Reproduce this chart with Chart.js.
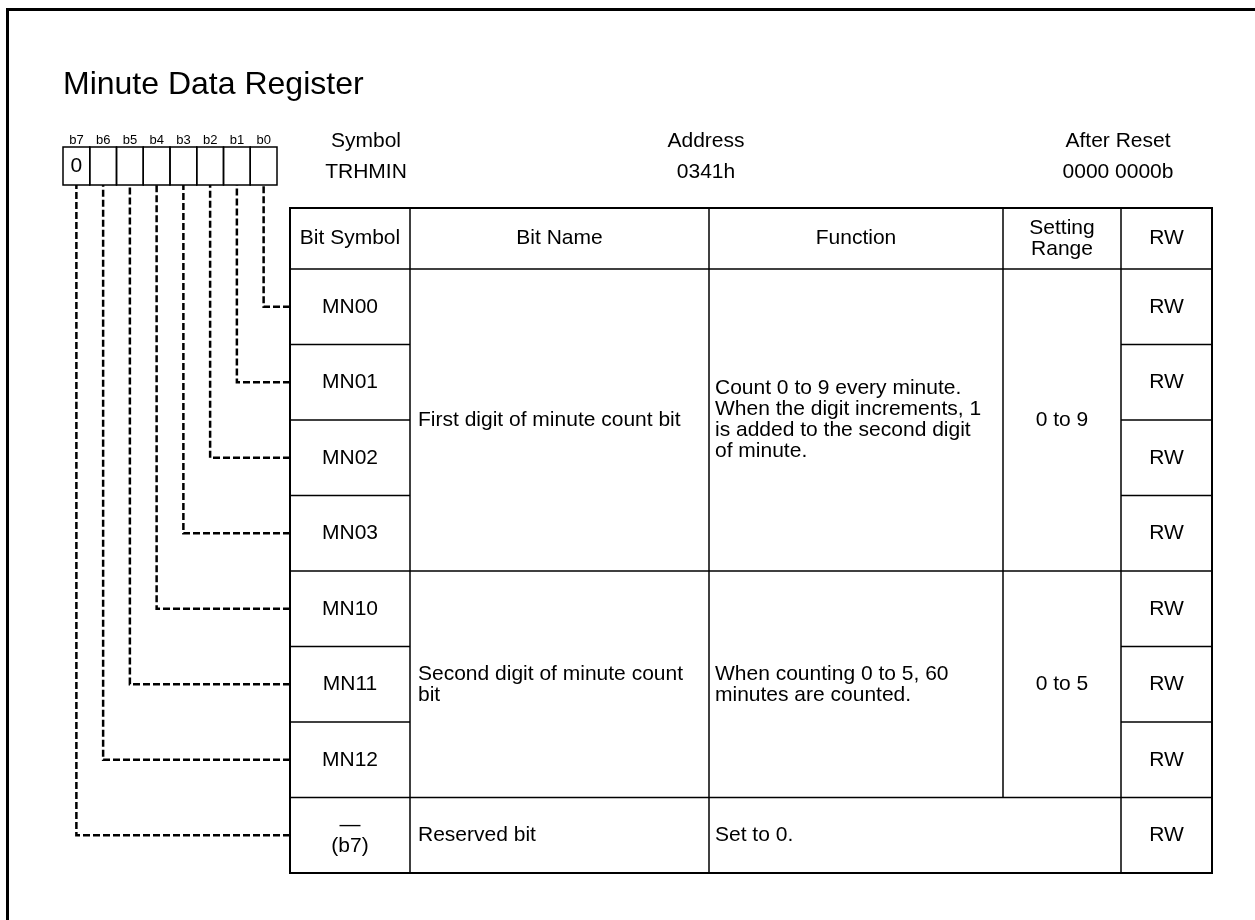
<!DOCTYPE html>
<html>
<head>
<meta charset="utf-8">
<title>Minute Data Register</title>
<script src="https://cdn.jsdelivr.net/npm/chart.js@4.4.0/dist/chart.umd.min.js"></script>
<style>
    html, body { margin: 0; padding: 0; background: #fff; }
    #wrap { position: relative; width: 1255px; height: 920px; }
</style>
</head>
<body>
<div id="wrap"><canvas id="registerChart"></canvas></div>
<script>
// ================================
// Register data
// ================================

const registerTitle = "Minute Data Register";

const headerLabels = ["Symbol", "Address", "After Reset"];
const headerValues = ["TRHMIN", "0341h", "0000 0000b"];

// bit boxes, left to right
const bitLabels = ["b7", "b6", "b5", "b4", "b3", "b2", "b1", "b0"];
const bitValues = ["0", "", "", "", "", "", "", ""];

const columnTitles = ["Bit Symbol", "Bit Name", "Function", "Setting\nRange", "RW"];

// one entry per table row (row 0 = b0 ... row 7 = b7)
const bitSymbols = ["MN00", "MN01", "MN02", "MN03", "MN10", "MN11", "MN12", "\u2014\n(b7)"];
const bitAccess = ["RW", "RW", "RW", "RW", "RW", "RW", "RW", "RW"];

// merged cells: first row, last row
const groupRows = [[0, 3], [4, 6], [7, 7]];
const groupNames = [
    "First digit of minute count bit",
    "Second digit of minute count\nbit",
    "Reserved bit"
];
const groupFunctions = [
    "Count 0 to 9 every minute.\nWhen the digit increments, 1\nis added to the second digit\nof minute.",
    "When counting 0 to 5, 60\nminutes are counted.",
    "Set to 0."
];
// null = function cell also covers the setting range column
const groupRanges = ["0 to 9", "0 to 5", null];

// ================================
// Layout (pixels)
// ================================

const layout = {
    colWidths: [120, 299, 294, 118, 91],
    rowPx: 75.5,
    headerPx: 61,
    boxLeft: -227,      // relative to table left
    boxWidth: 26.75,
    boxTop: -122,       // relative to first data row top
    boxBottom: -84,
    infoX: [76, 416, 828],
    font: "Liberation Sans, Arial, sans-serif",
    textSize: 21,
    lineH: 21
};

const tableWidth = layout.colWidths.reduce((a, b) => a + b, 0);
const headerUnits = layout.headerPx / layout.rowPx;
const colEdges = layout.colWidths.reduce((acc, w) => { acc.push(acc[acc.length - 1] + w); return acc; }, [0]);

function boxCenter(i) {
    return layout.boxLeft + layout.boxWidth * (i + 0.5);
}

// ================================
// Connector datasets (dashed lines row -> bit box)
// ================================

const connectors = bitSymbols.map((sym, row) => {
    const boxIndex = bitLabels.indexOf("b" + row);
    const bx = boxCenter(boxIndex);
    return {
        label: bitLabels[boxIndex],
        data: [
            { x: 0, y: row + 0.5 },
            { x: bx, y: row + 0.5 },
            { x: bx, y: layout.boxBottom / layout.rowPx }
        ],
        showLine: true,
        borderColor: "#000",
        borderWidth: 2.5,
        borderDash: [7, 3],
        pointRadius: 0,
        tension: 0,
        clip: false
    };
});

// ================================
// Drawing helpers
// ================================

function drawText(ctx, text, x, y, align, size) {
    const lines = text.split("\n");
    ctx.font = (size || layout.textSize) + "px " + layout.font;
    ctx.textAlign = align;
    ctx.textBaseline = "middle";
    const start = y - (lines.length - 1) * layout.lineH / 2;
    lines.forEach((ln, k) => ctx.fillText(ln, x, start + k * layout.lineH));
}

function line(ctx, x1, y1, x2, y2) {
    ctx.beginPath();
    ctx.moveTo(x1, y1);
    ctx.lineTo(x2, y2);
    ctx.stroke();
}

const registerPlugin = {
    id: "registerTable",

    beforeDraw(chart) {
        const ctx = chart.ctx;
        ctx.save();
        ctx.fillStyle = "#fff";
        ctx.fillRect(0, 0, chart.width, chart.height);
        // page frame
        ctx.strokeStyle = "#000";
        ctx.lineWidth = 3;
        ctx.beginPath();
        ctx.moveTo(7.5, chart.height);
        ctx.lineTo(7.5, 9.5);
        ctx.lineTo(chart.width, 9.5);
        ctx.stroke();
        ctx.restore();
    },

    afterDatasetsDraw(chart) {
        const ctx = chart.ctx;
        const xs = chart.scales.x;
        const ys = chart.scales.y;
        const X = v => xs.getPixelForValue(v);
        const Y = v => ys.getPixelForValue(v);
        const top = Y(-headerUnits);
        const rowTop = Y(0);

        ctx.save();
        ctx.fillStyle = "#000";
        ctx.strokeStyle = "#000";

        // title and register info
        drawText(ctx, registerTitle, X(layout.boxLeft), Y(-2.44), "left", 32);
        headerLabels.forEach((lab, i) => {
            drawText(ctx, lab, X(layout.infoX[i]), rowTop - 128, "center");
            drawText(ctx, headerValues[i], X(layout.infoX[i]), rowTop - 97, "center");
        });

        // bit boxes
        const bTop = rowTop + layout.boxTop;
        const bBot = rowTop + layout.boxBottom;
        ctx.lineWidth = 1.5;
        bitLabels.forEach((lab, i) => {
            const l = X(layout.boxLeft + layout.boxWidth * i);
            const r = X(layout.boxLeft + layout.boxWidth * (i + 1));
            ctx.strokeRect(l, bTop, r - l, bBot - bTop);
            drawText(ctx, lab, X(boxCenter(i)), bTop - 7, "center", 13);
            if (bitValues[i]) drawText(ctx, bitValues[i], X(boxCenter(i)), (bTop + bBot) / 2, "center");
        });

        // header row
        columnTitles.forEach((t, c) => {
            drawText(ctx, t, (X(colEdges[c]) + X(colEdges[c + 1])) / 2, (top + rowTop) / 2, "center");
        });
        line(ctx, X(0), top, X(tableWidth), top);
        line(ctx, X(0), rowTop, X(tableWidth), rowTop);

        // single-row columns: bit symbol and RW
        bitSymbols.forEach((sym, r) => {
            const yc = Y(r + 0.5);
            drawText(ctx, sym, (X(colEdges[0]) + X(colEdges[1])) / 2, yc, "center");
            drawText(ctx, bitAccess[r], (X(colEdges[4]) + X(colEdges[5])) / 2, yc, "center");
            line(ctx, X(colEdges[0]), Y(r + 1), X(colEdges[1]), Y(r + 1));
            line(ctx, X(colEdges[4]), Y(r + 1), X(colEdges[5]), Y(r + 1));
        });

        // merged groups
        groupRows.forEach((g, k) => {
            const y0 = Y(g[0]);
            const y1 = Y(g[1] + 1);
            const yc = (y0 + y1) / 2;
            drawText(ctx, groupNames[k], X(colEdges[1]) + 8, yc, "left");
            drawText(ctx, groupFunctions[k], X(colEdges[2]) + 6, yc, "left");
            if (groupRanges[k] !== null) {
                drawText(ctx, groupRanges[k], (X(colEdges[3]) + X(colEdges[4])) / 2, yc, "center");
                line(ctx, X(colEdges[3]), y0, X(colEdges[3]), y1);
            }
            line(ctx, X(colEdges[1]), y1, X(colEdges[4]), y1);
        });
        line(ctx, X(colEdges[3]), top, X(colEdges[3]), rowTop);

        // vertical column lines
        [0, 1, 2, 4, 5].forEach(c => line(ctx, X(colEdges[c]), top, X(colEdges[c]), Y(8)));

        // outer box
        ctx.lineWidth = 2;
        ctx.strokeRect(X(0), top, X(tableWidth) - X(0), Y(8) - top);
        ctx.restore();
    }
};

// ================================
// Chart
// ================================

new Chart(document.getElementById("registerChart"), {
    type: "scatter",
    data: { datasets: connectors },
    options: {
        responsive: true,
        maintainAspectRatio: false,
        animation: false,
        events: [],
        layout: {
            padding: { left: 290, top: 208, right: 43, bottom: 47 }
        },
        scales: {
            x: { type: "linear", display: false, min: 0, max: tableWidth },
            y: { type: "linear", display: false, min: -headerUnits, max: 8, reverse: true }
        },
        plugins: {
            legend: { display: false },
            tooltip: { enabled: false }
        }
    },
    plugins: [registerPlugin]
});
</script>
</body>
</html>
